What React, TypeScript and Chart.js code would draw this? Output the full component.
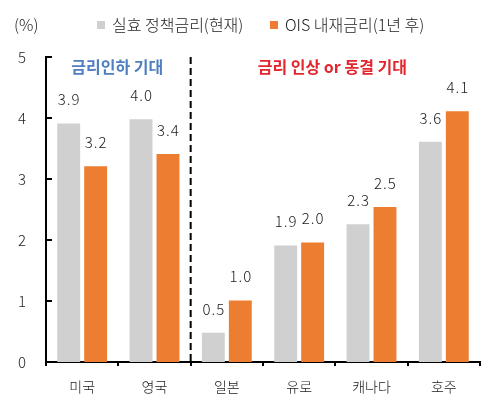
import React, { useEffect, useRef } from "react";
import { Chart, registerables } from "chart.js";

Chart.register(...registerables);

const categories = ["미국", "영국", "일본", "유로", "캐나다", "호주"];
const currentRate = [3.91, 3.98, 0.48, 1.91, 2.26, 3.61];
const oisRate = [3.21, 3.41, 1.01, 1.96, 2.54, 4.11];
const seriesNames = ["실효 정책금리(현재)", "OIS 내재금리(1년 후)"];
const yTickValues = [0, 1, 2, 3, 4, 5];
const groupNotes = ["금리인하 기대", "금리 인상 or 동결 기대"];

const FONT = "'Noto Sans CJK KR', 'Noto Sans', sans-serif";
const GRAY = "#d0d0d0";
const ORANGE = "#ed7d31";

const overlay = {
  id: "overlay",
  afterDatasetsDraw(chart: any) {
    const ctx = chart.ctx;
    const xs = chart.scales.x;
    const ys = chart.scales.y;
    ctx.save();
    // inward y ticks
    ctx.strokeStyle = "#000";
    ctx.lineWidth = 2;
    yTickValues.forEach((v) => {
      const py = ys.getPixelForValue(v);
      ctx.beginPath();
      ctx.moveTo(xs.left, py);
      ctx.lineTo(xs.left + 6, py);
      ctx.stroke();
    });
    // dashed separator between group 1 and 2
    const sepX = (xs.getPixelForValue(1) + xs.getPixelForValue(2)) / 2;
    ctx.setLineDash([7, 4]);
    ctx.beginPath();
    ctx.moveTo(sepX, ys.getPixelForValue(5));
    ctx.lineTo(sepX, ys.getPixelForValue(0));
    ctx.stroke();
    ctx.setLineDash([]);
    // value labels
    ctx.fillStyle = "#1a1a1a";
    ctx.font = `300 15px ${FONT}`;
    ctx.letterSpacing = "1px";
    ctx.textAlign = "center";
    ctx.textBaseline = "alphabetic";
    chart.data.datasets.forEach((ds: any, di: number) => {
      const meta = chart.getDatasetMeta(di);
      meta.data.forEach((bar: any, i: number) => {
        ctx.fillText(Number(ds.data[i]).toFixed(1), bar.x + 0.5, bar.y - 18);
      });
    });
    ctx.letterSpacing = "0px";
    // group notes
    ctx.font = `bold 16px ${FONT}`;
    ctx.textBaseline = "middle";
    const noteY = ys.getPixelForValue(4.84);
    ctx.fillStyle = "#4f7fbf";
    ctx.fillText(groupNotes[0], (xs.getPixelForValue(0) + xs.getPixelForValue(1)) / 2 - 1, noteY);
    ctx.fillStyle = "#e3262d";
    ctx.fillText(groupNotes[1], (xs.getPixelForValue(2) + xs.getPixelForValue(5)) / 2 - 3, noteY);
    // unit + legend
    ctx.font = `300 16px ${FONT}`;
    ctx.fillStyle = "#222";
    ctx.textAlign = "left";
    ctx.fillText("(%)", 14, 25);
    const legendX = [97, 270];
    chart.data.datasets.forEach((ds: any, di: number) => {
      ctx.fillStyle = ds.backgroundColor;
      ctx.fillRect(legendX[di], 21, 8, 8);
      ctx.fillStyle = "#222";
      ctx.fillText(ds.label, legendX[di] + 15, 25);
    });
    ctx.restore();
  },
};

export default function App() {
  const ref = useRef<HTMLCanvasElement>(null);
  useEffect(() => {
    document.body.style.margin = "0";
    const chart = new Chart(ref.current as HTMLCanvasElement, {
      type: "bar",
      data: {
        labels: categories,
        datasets: [
          { label: seriesNames[0], data: currentRate, backgroundColor: GRAY },
          { label: seriesNames[1], data: oisRate, backgroundColor: ORANGE },
        ],
      },
      options: {
        animation: false,
        responsive: false,
        devicePixelRatio: 1,
        layout: { padding: { top: 57, right: 13, left: 0, bottom: 0 } },
        plugins: { legend: { display: false }, tooltip: { enabled: false } },
        datasets: { bar: { categoryPercentage: 0.745, barPercentage: 0.85 } },
        scales: {
          x: {
            afterFit(scale: any) {
              scale.height = 45;
            },
            border: { display: true, color: "#000", width: 2 },
            grid: { drawOnChartArea: false, drawTicks: true, tickLength: 4, color: "#000", lineWidth: 2 },
            ticks: { color: "#1a1a1a", font: { family: FONT, size: 14, weight: "300" }, padding: 12 },
          },
          y: {
            min: 0,
            max: 5,
            afterFit(scale: any) {
              scale.width = 46;
            },
            afterBuildTicks(scale: any) {
              scale.ticks = yTickValues.map((v) => ({ value: v }));
            },
            border: { display: true, color: "#000", width: 2 },
            grid: { display: false, drawTicks: false },
            ticks: { color: "#222", font: { family: FONT, size: 15, weight: "300" }, padding: 20 },
          },
        },
      },
      plugins: [overlay],
    });
    return () => chart.destroy();
  }, []);
  return <canvas ref={ref} width={493} height={407} />;
}
